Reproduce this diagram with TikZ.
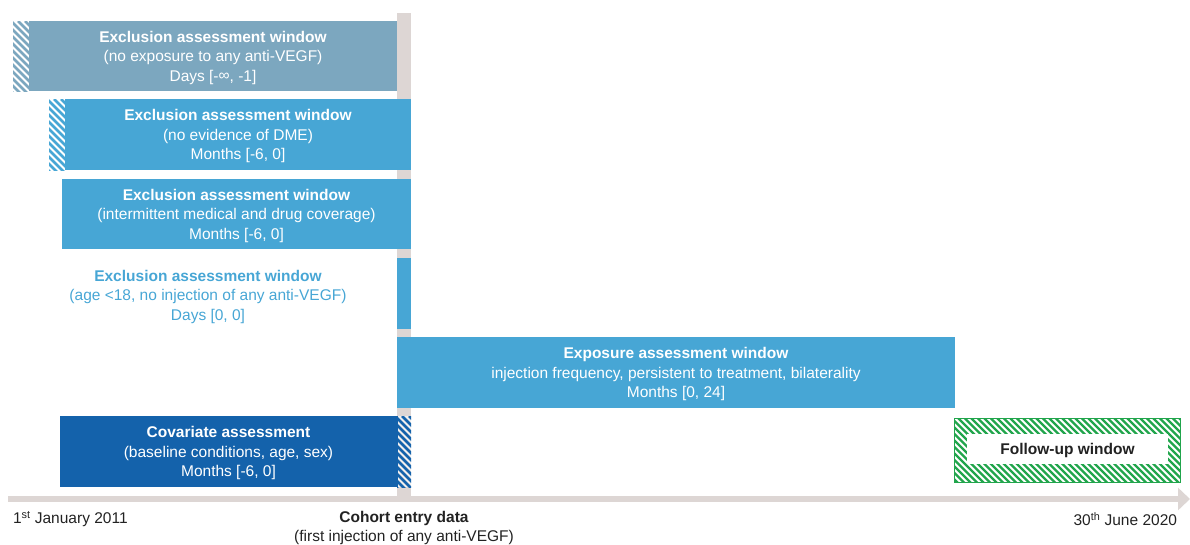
\documentclass[tikz,border=0pt]{standalone}
\usepackage{fontspec}
\setmainfont{Liberation Sans}
\usetikzlibrary{arrows.meta}
\definecolor{cgray}{HTML}{DDD6D4}
\definecolor{cslate}{HTML}{7CA7BF}
\definecolor{clight}{HTML}{47A6D5}
\definecolor{cdark}{HTML}{1462AB}
\definecolor{cgreen}{HTML}{21A54C}
\definecolor{ctext}{HTML}{222222}
\newcommand\hatchrect[8]{%
  \begin{scope}
    \fill[#2] (#3,#4) rectangle (#5,#6);
    \clip (#3,#4) rectangle (#5,#6);
    \pgfmathsetmacro\hsecond{-100+#8}
    \foreach \k in {-100,\hsecond,...,260}
      \draw[#1,line width=#7] ({#3+\k},#4) -- ++(100,100);
  \end{scope}}
\tikzset{
  winbox/.style={inner sep=0pt, outer sep=0pt, text=white, align=center,
    font=\fontsize{15.5}{19.5}\selectfont},
  plain/.style={inner sep=0pt, outer sep=0pt, align=center, text=ctext,
    font=\fontsize{15.5}{19.5}\selectfont},
  axisline/.style={cgray, line width=6.5pt, -{Triangle[length=12pt,width=22pt]}}
}
\begin{document}
\begin{tikzpicture}[x=1pt,y=-1pt]
\useasboundingbox (0,0) rectangle (1190,544);
% vertical cohort-entry bar
\fill[cgray] (397,13) rectangle (411,499);
% axis
\coordinate (a0) at (8,499);
\coordinate (a1) at (1190,499);
\draw[axisline] (a0) -- (a1);

% window 1
\hatchrect{cslate}{white}{13}{21}{29}{91}{2.5pt}{7}
\node[winbox, fill=cslate, minimum width=368pt, minimum height=70pt] (w1) at (213,56) {};
\node[winbox] (w1t) at (213,57.5)
  {\textbf{Exclusion assessment window}\\(no exposure to any anti-VEGF)\\Days [-\raisebox{0.5pt}{∞}, -1]};
% window 2
\hatchrect{clight}{white}{49}{99}{65}{170}{2.5pt}{7}
\node[winbox, fill=clight, minimum width=346pt, minimum height=71pt] (w2) at (238,134.5) {};
\node[winbox] (w2t) at (238,136)
  {\textbf{Exclusion assessment window}\\(no evidence of DME)\\Months [-6, 0]};
% window 3
\node[winbox, fill=clight, minimum width=349pt, minimum height=70pt] (w3) at (236.5,214) {};
\node[winbox] (w3t) at (236.5,215.5)
  {\textbf{Exclusion assessment window}\\(intermittent medical and drug coverage)\\Months [-6, 0]};
% window 4
\node[fill=clight, inner sep=0pt, minimum width=14pt, minimum height=71pt] (w4bar) at (404,293.5) {};
\node[plain, text=clight] (w4) at (208,296.5)
  {\textbf{Exclusion assessment window}\\(age <18, no injection of any anti-VEGF)\\Days [0, 0]};
% exposure
\node[winbox, fill=clight, minimum width=558pt, minimum height=71pt] (ex) at (676,372.5) {};
\node[winbox] (ext) at (676,374)
  {\textbf{Exposure assessment window}\\injection frequency, persistent to treatment, bilaterality\\Months [0, 24]};
% covariate
\hatchrect{cdark}{cgray!40}{397}{416}{411}{487}{2.5pt}{7}
\node[winbox, fill=cdark, minimum width=338pt, minimum height=71pt] (cv) at (228.5,451.5) {};
\node[winbox] (cvt) at (228.5,453)
  {\textbf{Covariate assessment}\\(baseline conditions, age, sex)\\Months [-6, 0]};
% follow-up
\hatchrect{cgreen}{white}{954}{418}{1180}{482}{2.3pt}{6.5}
\draw[cgreen, line width=0.8pt] (954,418) rectangle (1180,482);
\node[plain, fill=white, minimum width=201pt, minimum height=30pt] (fu) at (1067.5,449) {};
\node[plain] (fut) at (1067.5,450) {\textbf{Follow-up window}};

% axis labels
\node[plain, anchor=west] (l0) at (13,519) {1\textsuperscript{st} January 2011};
\node[plain] (l1) at (404,528) {\textbf{Cohort entry data}\\(first injection of any anti-VEGF)};
\node[plain, anchor=east] (l2) at (1177,519) {30\textsuperscript{th} June 2020};
\end{tikzpicture}
\end{document}
